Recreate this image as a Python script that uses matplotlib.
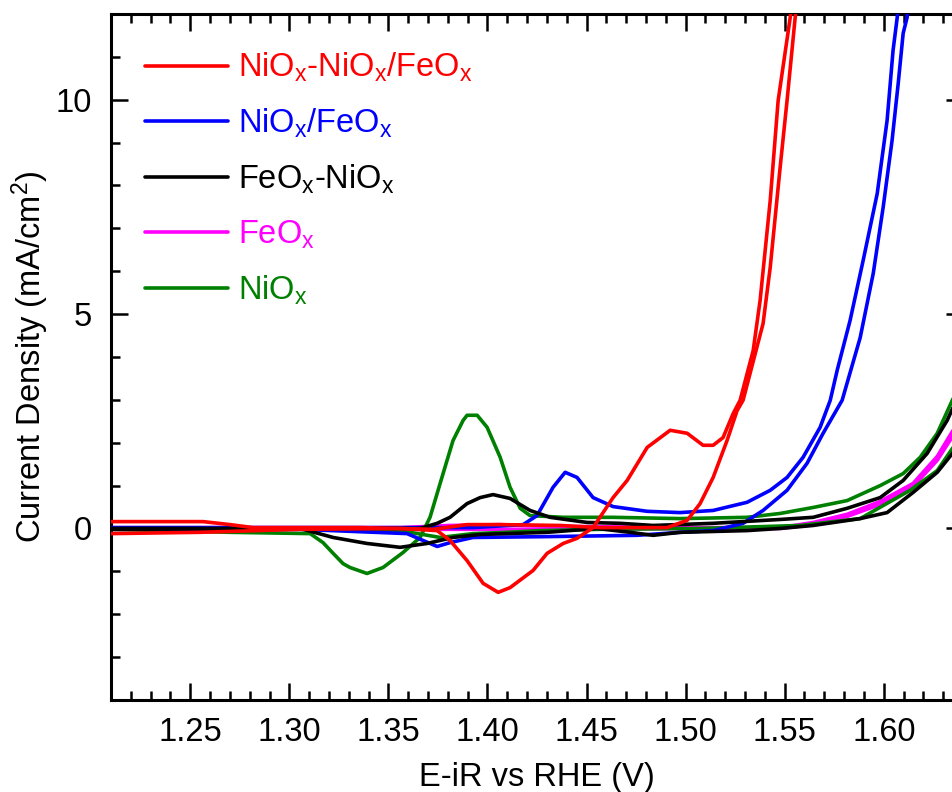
import matplotlib
matplotlib.use("Agg")
import matplotlib.pyplot as plt
from matplotlib.ticker import MultipleLocator, FormatStrFormatter

plt.rcParams['font.family'] = ['Liberation Sans', 'DejaVu Sans']
plt.rcParams['mathtext.fontset'] = 'custom'
plt.rcParams['mathtext.rm'] = 'Liberation Sans'
plt.rcParams['mathtext.it'] = 'Liberation Sans:italic'

# NiOx-NiOx/FeOx (red), two sweep branches
red_v1 = [1.210, 1.2297, 1.2564, 1.2701, 1.2817, 1.3054, 1.3357, 1.3725, 1.3897, 1.4064,
          1.4367, 1.4568, 1.4907, 1.5008, 1.5073, 1.5139, 1.5209, 1.5260, 1.5290, 1.5391,
          1.5427, 1.5477, 1.5512, 1.5553, 1.5560]
red_j1 = [0.16, 0.16, 0.16, 0.09, 0.02, 0.02, 0.02, -0.02, 0.09, 0.09,
          0.07, 0.02, 0.02, 0.19, 0.58, 1.19, 2.05, 2.75, 2.99, 4.78,
          6.09, 8.42, 9.98, 11.92, 12.2]
red_v2 = [1.210, 1.2549, 1.3054, 1.3559, 1.3746, 1.3811, 1.3897, 1.3978, 1.4054, 1.4114,
          1.4230, 1.4301, 1.4382, 1.4452, 1.4533, 1.4634, 1.4705, 1.4806, 1.4922, 1.5008,
          1.5088, 1.5139, 1.5189, 1.5240, 1.5275, 1.5341, 1.5376, 1.5427, 1.5467, 1.5528,
          1.5535]
red_j2 = [-0.12, -0.09, -0.02, 0.0, -0.05, -0.28, -0.75, -1.28, -1.49, -1.38,
          -0.98, -0.58, -0.35, -0.23, 0.02, 0.72, 1.12, 1.89, 2.29, 2.22,
          1.94, 1.94, 2.12, 2.68, 2.99, 4.15, 5.32, 7.65, 9.98, 11.92,
          12.2]

# NiOx/FeOx (blue)
blue_v1 = [1.210, 1.3054, 1.3559, 1.3927, 1.4180, 1.4250, 1.4331, 1.4392, 1.4452, 1.4533,
           1.4634, 1.4806, 1.4972, 1.5139, 1.5310, 1.5427, 1.5512, 1.5593, 1.5679, 1.5730,
           1.5765, 1.5830, 1.5896, 1.5967, 1.6017, 1.6047, 1.6068, 1.6072]
blue_j1 = [0.02, 0.02, 0.02, 0.02, 0.09, 0.30, 0.96, 1.31, 1.19, 0.72,
           0.51, 0.40, 0.37, 0.42, 0.61, 0.89, 1.19, 1.66, 2.36, 2.99,
           3.69, 4.85, 6.25, 7.81, 9.52, 11.15, 11.92, 12.2]
blue_v2 = [1.210, 1.3054, 1.3594, 1.3675, 1.3746, 1.3811, 1.3927, 1.4301, 1.4755, 1.4972,
           1.5139, 1.5290, 1.5391, 1.5512, 1.5613, 1.5694, 1.5790, 1.5881, 1.5947, 1.5997,
           1.6042, 1.6073, 1.6098, 1.6118, 1.6123]
blue_j2 = [-0.02, -0.02, -0.12, -0.28, -0.42, -0.33, -0.21, -0.19, -0.16, -0.09,
           -0.05, 0.12, 0.42, 0.89, 1.52, 2.22, 2.99, 4.45, 5.95, 7.49,
           9.05, 10.38, 11.55, 11.92, 12.2]

# FeOx-NiOx (black)
black_v1 = [1.210, 1.3054, 1.3660, 1.3746, 1.3811, 1.3897, 1.3963, 1.4028, 1.4114, 1.4215,
            1.4316, 1.4503, 1.4669, 1.4836, 1.5139, 1.5477, 1.5644, 1.5815, 1.5982, 1.6098,
            1.6219, 1.6320, 1.6350]
black_j1 = [0.0, 0.0, 0.0, 0.12, 0.26, 0.58, 0.72, 0.79, 0.70, 0.42,
            0.26, 0.14, 0.12, 0.07, 0.12, 0.21, 0.26, 0.47, 0.72, 1.12,
            1.75, 2.52, 2.82]
black_v2 = [1.210, 1.3054, 1.3221, 1.3392, 1.3559, 1.3695, 1.3826, 1.3963, 1.4301, 1.4553,
            1.4720, 1.4836, 1.4972, 1.5310, 1.5477, 1.5644, 1.5881, 1.6017, 1.6148, 1.6270,
            1.6350]
black_j2 = [-0.02, 0.0, -0.21, -0.35, -0.44, -0.35, -0.21, -0.14, -0.09, 0.0,
            -0.09, -0.16, -0.09, -0.05, 0.0, 0.07, 0.23, 0.37, 0.84, 1.31,
            1.77]

# FeOx (magenta)
mag_v1 = [1.210, 1.3559, 1.3811, 1.4064, 1.4316, 1.5073, 1.5477, 1.5644, 1.5815, 1.5982,
          1.6148, 1.6270, 1.6350]
mag_j1 = [0.02, 0.02, 0.07, 0.09, 0.05, 0.02, 0.02, 0.14, 0.33, 0.63,
          1.05, 1.68, 2.29]
mag_v2 = [1.210, 1.3559, 1.4064, 1.5073, 1.5477, 1.5644, 1.5815, 1.5982, 1.6148, 1.6270,
          1.6350]
mag_j2 = [0.0, -0.02, -0.02, 0.0, 0.0, 0.09, 0.28, 0.56, 0.98, 1.59,
          2.17]

# NiOx (green)
green_v1 = [1.210, 1.2701, 1.3105, 1.3170, 1.3221, 1.3271, 1.3306, 1.3392, 1.3473, 1.3574,
            1.3660, 1.3710, 1.3761, 1.3826, 1.3877, 1.3897, 1.3948, 1.3998, 1.4064, 1.4114,
            1.4165, 1.4215, 1.4382, 1.4634, 1.4972, 1.5310, 1.5477, 1.5644, 1.5815, 1.5982,
            1.6098, 1.6184, 1.6270, 1.6350]
green_j1 = [-0.02, -0.09, -0.12, -0.33, -0.58, -0.82, -0.91, -1.05, -0.91, -0.56,
            -0.21, 0.26, 1.05, 2.05, 2.52, 2.64, 2.64, 2.36, 1.66, 0.96,
            0.47, 0.30, 0.26, 0.26, 0.23, 0.26, 0.35, 0.49, 0.65, 1.00,
            1.28, 1.66, 2.22, 3.03]
green_v2 = [1.210, 1.3054, 1.3559, 1.3761, 1.3927, 1.4099, 1.4266, 1.4568, 1.5073, 1.5578,
            1.5881, 1.6133, 1.6270, 1.6350]
green_j2 = [0.0, 0.0, -0.05, -0.21, -0.12, -0.09, -0.05, -0.02, 0.0, 0.07,
            0.23, 0.89, 1.35, 1.89]

series = [
    (r'NiO$_\mathregular{x}$-NiO$_\mathregular{x}$/FeO$_\mathregular{x}$', '#ff0000',
     red_v1, red_j1, red_v2, red_j2),
    (r'NiO$_\mathregular{x}$/FeO$_\mathregular{x}$', '#0000ff',
     blue_v1, blue_j1, blue_v2, blue_j2),
    (r'FeO$_\mathregular{x}$-NiO$_\mathregular{x}$', '#000000',
     black_v1, black_j1, black_v2, black_j2),
    (r'FeO$_\mathregular{x}$', '#ff00ff', mag_v1, mag_j1, mag_v2, mag_j2),
    (r'NiO$_\mathregular{x}$', '#008000', green_v1, green_j1, green_v2, green_j2),
]
zorders = [6, 4, 5, 2, 3]

fig = plt.figure(figsize=(9.53, 7.92), dpi=100)
ax = fig.add_axes([0.1165, 0.1162, 0.894, 0.8662])

handles = []
for (label, color, v1, j1, v2, j2), z in zip(series, zorders):
    h, = ax.plot(v1, j1, color=color, lw=2.6, label=label, zorder=z,
                 solid_joinstyle='round', solid_capstyle='round')
    ax.plot(v2, j2, color=color, lw=2.6, zorder=z,
            solid_joinstyle='round', solid_capstyle='round')
    handles.append(h)

ax.set_xlim(1.21, 1.64)
ax.set_ylim(-4, 12)
ax.xaxis.set_major_locator(MultipleLocator(0.05))
ax.xaxis.set_minor_locator(MultipleLocator(0.01))
ax.xaxis.set_major_formatter(FormatStrFormatter('%.2f'))
ax.yaxis.set_major_locator(MultipleLocator(5))
ax.yaxis.set_minor_locator(MultipleLocator(1))

ax.tick_params(which='both', direction='in', top=True, right=True, width=1.8, labelsize=23.5)
ax.tick_params(which='major', length=12)
ax.tick_params(which='minor', length=6.5)
ax.tick_params(axis='x', pad=12)
ax.tick_params(axis='y', pad=14)
for sp in ax.spines.values():
    sp.set_linewidth(2.2)

ax.set_xlabel('E-iR vs RHE (V)', fontsize=23.5)
ax.set_ylabel(r'Current Density (mA/cm$^\mathregular{2}$)', fontsize=23.5)
ax.xaxis.set_label_coords(0.5, -0.09)
ax.yaxis.set_label_coords(-0.07, 0.5)

leg = ax.legend(handles=handles, loc='upper left', bbox_to_anchor=(0.04, 0.946),
                frameon=False, fontsize=23.5, handlelength=2.55, handletextpad=0.3,
                labelspacing=0.69, borderpad=0, borderaxespad=0)
for text, h in zip(leg.get_texts(), handles):
    text.set_color(h.get_color())

fig.savefig('out.png', dpi=100)
